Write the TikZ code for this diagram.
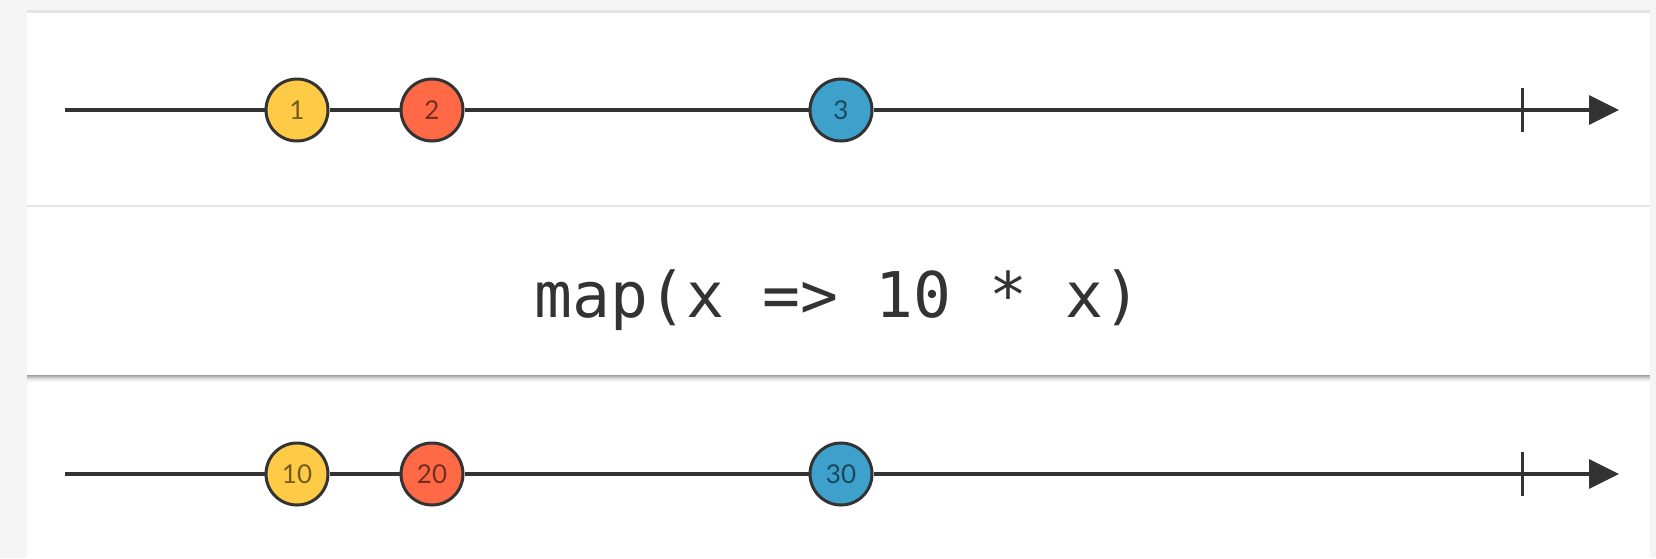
\documentclass[tikz,border=0pt]{standalone}
\usepackage{fontspec}
\usetikzlibrary{arrows.meta}
\newfontfamily\codefont{DejaVu Sans Mono}
\newfontfamily\lblfont{Lato}
\definecolor{bgout}{HTML}{F5F5F5}
\definecolor{sepline}{HTML}{E4E4E4}
\definecolor{ink}{HTML}{333333}
\definecolor{myyellow}{HTML}{FFCB46}
\definecolor{myred}{HTML}{FF6946}
\definecolor{myblue}{HTML}{3EA1CB}
\tikzset{
  marble/.style={circle, draw=ink, line width=3pt, minimum size=62pt, inner sep=0pt,
    font=\lblfont\fontsize{26}{26}\selectfont},
  timeline/.style={draw=ink, line width=3.5pt},
  endtick/.style={draw=ink, line width=3pt},
  tip/.style={-{Triangle[length=30pt,width=29pt]}}
}
\begin{document}
\begin{tikzpicture}[x=1pt,y=-1pt]
\useasboundingbox (0,0) rectangle (1656,558);
% backgrounds
\fill[bgout] (0,0) rectangle (1656,558);
\fill[white] (27,12) rectangle (1650,558);
\fill[sepline] (27,10) rectangle (1650,12.5);
\fill[sepline] (27,204.5) rectangle (1650,206.5);
% shadow under operator panel
\foreach \i/\c in {0/62,1/70,2/78,3/85,4/90,5/94,6/97,7/99}{
  \fill[black!\the\numexpr100-\c\relax!white] (27,375+\i) rectangle (1650,376+\i);
}
% top timeline
\coordinate (s1) at (65,110);
\node[marble, fill=myyellow, text=myyellow!45!black] (a1) at (297,110) {1};
\node[marble, fill=myred, text=myred!45!black] (b1) at (432,110) {2};
\node[marble, fill=myblue, text=myblue!45!black] (c1) at (841,110) {3};
\coordinate (e1) at (1619,110);
\coordinate (t1) at (1522,110);
\draw[timeline] (s1) -- (a1);
\draw[timeline] (a1) -- (b1);
\draw[timeline] (b1) -- (c1);
\draw[timeline, tip] (c1) -- (e1);
\draw[endtick] ([yshift=-22pt]t1) -- ([yshift=22pt]t1);
% operator
\node[anchor=base, text=ink, font=\codefont\fontsize{63}{63}\selectfont, inner sep=0pt] (op) at (838,317) {map(x => 10 * x)};
% bottom timeline
\coordinate (s2) at (65,474);
\node[marble, fill=myyellow, text=myyellow!45!black] (a2) at (297,474) {10};
\node[marble, fill=myred, text=myred!45!black] (b2) at (432,474) {20};
\node[marble, fill=myblue, text=myblue!45!black] (c2) at (841,474) {30};
\coordinate (e2) at (1619,474);
\coordinate (t2) at (1522,474);
\draw[timeline] (s2) -- (a2);
\draw[timeline] (a2) -- (b2);
\draw[timeline] (b2) -- (c2);
\draw[timeline, tip] (c2) -- (e2);
\draw[endtick] ([yshift=-22pt]t2) -- ([yshift=22pt]t2);
\end{tikzpicture}
\end{document}
